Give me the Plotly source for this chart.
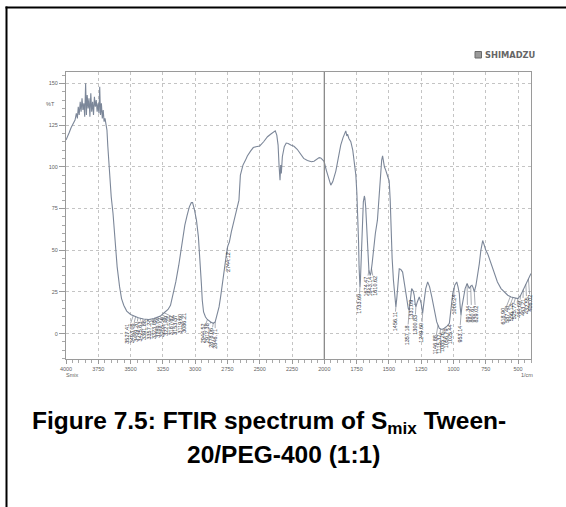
import numpy as np
import plotly.graph_objects as go

# ---------------- data ----------------
wavenumber = [4000, 3990, 3975, 3960, 3945, 3930, 3920, 3912, 3905, 3898, 3890, 3883, 3876, 3869,
              3862, 3855, 3848, 3842, 3836, 3829, 3822, 3815, 3808, 3801, 3794, 3787, 3780, 3773,
              3766, 3759, 3752, 3745, 3739, 3733, 3726, 3719, 3712, 3705, 3698, 3690, 3683, 3676,
              3668, 3660, 3650, 3636, 3620, 3604, 3585, 3570, 3553, 3530, 3500, 3476, 3440, 3400,
              3359, 3320, 3290, 3269, 3240, 3210, 3191, 3170, 3150, 3127, 3100, 3080, 3062, 3045,
              3030, 3020, 3005, 2990, 2975, 2965, 2958, 2952, 2945, 2935, 2920, 2906, 2880, 2860,
              2845, 2830, 2815, 2803, 2790, 2775, 2760, 2752, 2745, 2735, 2720, 2700, 2680, 2661,
              2650, 2630, 2610, 2596, 2570, 2550, 2530, 2500, 2470, 2440, 2416, 2395, 2380, 2368,
              2358, 2350, 2348, 2343, 2338, 2333, 2325, 2310, 2295, 2280, 2260, 2235, 2210, 2183,
              2160, 2131, 2100, 2080, 2060, 2040, 2028, 2015, 2002, 1985, 1965, 1950, 1935, 1920,
              1911, 1895, 1880, 1873, 1855, 1840, 1834, 1826, 1820, 1810, 1795, 1780, 1765, 1756,
              1748, 1740, 1735, 1731, 1727, 1724, 1720, 1712, 1705, 1698, 1690, 1686, 1680, 1672,
              1665, 1655, 1645, 1640, 1630, 1620, 1605, 1589, 1575, 1565, 1556, 1549, 1543, 1535,
              1525, 1510, 1498, 1490, 1485, 1475, 1465, 1455, 1446, 1438, 1430, 1420, 1408, 1394,
              1380, 1365, 1350, 1343, 1335, 1324, 1312, 1304, 1297, 1291, 1280, 1265, 1250, 1239,
              1230, 1215, 1200, 1185, 1168, 1148, 1130, 1110, 1090, 1071, 1050, 1032, 1020, 1006,
              990, 975, 965, 955, 948, 942, 935, 921, 910, 895, 885, 878, 867, 857, 848, 839, 826,
              813, 800, 788, 774, 762, 750, 735, 715, 700, 684, 660, 632, 600, 580, 554, 530, 502,
              480, 465, 451, 430, 410, 400]
transmittance = [116, 117.5, 120.5, 123.5, 126, 128, 132, 129, 136, 131, 139, 133, 141, 134,
                 138, 130, 150, 131, 143, 135, 141, 130, 144, 133, 139, 131, 142, 136,
                 140, 133, 138, 132, 148, 131, 138, 129, 134, 127, 129, 124, 122, 112,
                 102, 92, 82, 72, 55, 40, 28, 21, 17, 13.5, 11.5, 10.5, 9.5, 8.8,
                 8.5, 9, 9.8, 10.5, 12.5, 14.5, 17, 24, 31, 41, 55, 65, 71, 76,
                 78.5, 78.5, 74, 68, 58, 48, 40, 30, 20, 13, 10, 8.5, 7, 6.2,
                 7, 11, 16, 22, 30, 40, 47, 51, 53, 55, 61, 68, 74, 80,
                 95, 101, 104, 106.5, 109.5, 111.5, 112, 112.5, 115, 118, 119.5, 120.8, 121.5, 119,
                 113, 100, 98, 92, 101, 96, 106, 112, 114.2, 114, 113, 112.3, 110.5, 107.3,
                 105, 103.8, 103, 103.3, 104.5, 105.5, 105.3, 104.5, 103.3, 98, 92, 89, 91, 95,
                 97.4, 104, 110, 113, 117.5, 120, 121.5, 118.5, 119.5, 117, 115, 110, 101, 95,
                 84, 70, 55, 40, 30, 28, 33, 55, 70, 79, 82.5, 81, 76, 62,
                 48, 38, 35, 36, 42, 50, 60, 68, 85, 97, 104, 106.5, 103, 100,
                 98, 95, 91.5, 80, 67, 45, 32, 22, 16, 22, 32, 38.9, 38.5, 36.9,
                 30, 22, 15, 14.1, 21, 27, 25.5, 23, 18, 16, 19, 22, 18, 12.1,
                 18, 27, 31, 28, 22, 14.1, 7, 3.2, 2.5, 3.2, 4.5, 6.2, 14, 24,
                 29, 31, 28, 24, 16, 11.1, 16, 22, 27, 30, 28.5, 27, 28.5, 29, 27.5, 25, 29,
                 34.9, 42, 50, 55.8, 53, 50, 47.8, 43, 40, 35.9, 31, 27, 24.5, 23, 22, 21.5, 21,
                 23, 25.5, 28, 31, 34.5, 36]

x_ticks = [4000, 3750, 3500, 3250, 3000, 2750, 2500, 2250, 2000, 1750, 1500, 1250, 1000, 750, 500]
y_ticks = [0, 25, 50, 75, 100, 125, 150]

# peak labels: printed value, label x (1/cm), label centre (%T), point on the curve (1/cm)
peak_text = ["3527.41", "3493.06", "3459.20", "3425.63", "3391.88", "3357.27", "3323.05",
             "3289.74", "3255.16", "3221.49", "3187.82", "3153.37", "3119.60", "3086.21",
             "2944.52", "2912.38", "2878.06", "2846.71", "2744.12",
             "1733.69", "1674.47", "1643.14", "1610.62",
             "1456.11", "1357.18", "1331.09", "1300.83", "1249.60",
             "1146.88", "1115.37", "1085.26", "1056.79", "1025.44",
             "1000.24", "953.14", "891.34", "860.61", "829.02",
             "618.90", "587.48", "556.13", "525.77", "494.69", "463.21", "432.55", "406.02"]
peak_label_x = [3527, 3493, 3459, 3425, 3391, 3357, 3323, 3289, 3255, 3221, 3187, 3153, 3119, 3086,
                2944, 2912, 2878, 2846, 2744,
                1733, 1674, 1643, 1610,
                1456, 1357, 1331, 1300, 1249,
                1146, 1115, 1085, 1056, 1025,
                1000, 953, 891, 860, 829,
                618, 587, 556, 525, 494, 463, 432, 406]
peak_label_y = [0.0, 0.5, 1.0, 1.5, 2.0, 2.5, 3.0, 3.5, 4.0, 4.5, 5.0, 5.5, 6.0, 6.5,
                0.5, 0.0, -2.5, -3.0, 43,
                17.8, 28.5, 28.5, 28.5,
                7.2, -0.8, 14.2, 5.2, 0.7,
                -6.8, -6.2, -5.3, -2.6, -0.2,
                17.2, -0.2, 11.8, 11.8, 11.8,
                10.7, 11.8, 12.8, 13.9, 14.9, 16.0, 17.1, 18.2]
peak_point_x = [3480, 3461, 3443, 3424, 3406, 3387, 3369, 3350, 3332, 3313, 3295, 3276, 3258, 3240,
                2905, 2880, 2860, 2845, 2750,
                1724, 1655, 1645, 1635,
                1446, 1343, 1297, 1291, 1239,
                1120, 1100, 1080, 1060, 1040,
                995, 942, 895, 867, 839,
                560, 540, 520, 500, 480, 460, 440, 420]

# ---------------- figure ----------------
W, H = 566, 507
ML, MR, MT, MB = 66, 35, 72, 148
PW, PH = W - ML - MR, H - MT - MB


def px2paper_x(px):
    """page pixel x -> paper x"""
    return (px - ML) / PW


def py2paper_y(py):
    """page pixel y -> paper y"""
    return (H - MB - py) / PH


wn_arr = np.array(wavenumber, dtype=float)
t_arr = np.array(transmittance, dtype=float)

fig = go.Figure()
fig.add_trace(go.Scatter(x=wn_arr, y=t_arr, mode="lines",
                         line=dict(color="#7c8799", width=1.1),
                         hoverinfo="skip", showlegend=False))

grey_txt = "#5f5f5f"
tick_font = dict(family="Liberation Sans, Arial", size=5.5, color=grey_txt)

fig.update_layout(
    width=W, height=H,
    margin=dict(l=ML, r=MR, t=MT, b=MB),
    paper_bgcolor="white", plot_bgcolor="white",
    showlegend=False,
    xaxis=dict(range=[4000, 400], tickmode="array", tickvals=x_ticks,
               ticktext=[str(v) for v in x_ticks],
               showgrid=True, gridcolor="#c4c4c4", griddash="dot", gridwidth=1,
               showline=True, linecolor="#9a9a9a", linewidth=1, mirror=True,
               ticks="outside", ticklen=4, tickcolor="#9a9a9a", tickfont=tick_font,
               minor=dict(dtick=50, tick0=0, ticks="outside", ticklen=2.5, tickcolor="#a8a8a8",
                          showgrid=False),
               zeroline=False),
    yaxis=dict(range=[-15.2, 156.8], tickmode="array", tickvals=y_ticks,
               ticktext=[str(v) for v in y_ticks],
               showgrid=True, gridcolor="#c4c4c4", griddash="dot", gridwidth=1,
               showline=True, linecolor="#9a9a9a", linewidth=1, mirror=True,
               ticks="outside", ticklen=6, tickcolor="#9a9a9a", tickfont=tick_font,
               minor=dict(dtick=5, tick0=0, ticks="outside", ticklen=3, tickcolor="#a8a8a8",
                          showgrid=False),
               zeroline=False),
)

# solid line at 2000 1/cm (scale change)
fig.add_shape(type="line", xref="x", yref="y domain", x0=2000, x1=2000, y0=0, y1=1,
              line=dict(color="#8a8a8a", width=1.3))

# frame of the page: top and left black rules
fig.add_shape(type="line", xref="paper", yref="paper",
              x0=px2paper_x(5.5), x1=px2paper_x(570), y0=py2paper_y(7.5), y1=py2paper_y(7.5),
              line=dict(color="black", width=2))
fig.add_shape(type="line", xref="paper", yref="paper",
              x0=px2paper_x(6.5), x1=px2paper_x(6.5), y0=py2paper_y(6.5), y1=py2paper_y(510),
              line=dict(color="black", width=2))

# SHIMADZU logo
fig.add_shape(type="rect", xref="paper", yref="paper",
              x0=px2paper_x(475), x1=px2paper_x(481.5), y0=py2paper_y(58), y1=py2paper_y(51.5),
              line=dict(color="#6a6a6a", width=1), fillcolor="#9a9a9a")
fig.add_annotation(xref="paper", yref="paper", x=px2paper_x(482.5), y=py2paper_y(55),
                   xanchor="left", yanchor="middle", showarrow=False,
                   text="<b>SHIMADZU</b>",
                   font=dict(family="DejaVu Sans", size=8.3, color="#666666"))

# axis captions
fig.add_annotation(xref="paper", yref="y", x=px2paper_x(57), y=137.5, xanchor="right",
                   yanchor="middle", showarrow=False, text="%T", font=tick_font)
fig.add_annotation(xref="x", yref="paper", x=3955, y=py2paper_y(374.5), xanchor="center",
                   yanchor="middle", showarrow=False, text="Smix", font=tick_font)
fig.add_annotation(xref="x", yref="paper", x=430, y=py2paper_y(375), xanchor="center",
                   yanchor="middle", showarrow=False, text="1/cm", font=tick_font)

# peak labels with leader lines
interp_x = wn_arr[::-1]
interp_y = t_arr[::-1]
for txt, lx, ly, px in zip(peak_text, peak_label_x, peak_label_y, peak_point_x):
    py = float(np.interp(px, interp_x, interp_y))
    fig.add_annotation(x=px, y=py, xref="x", yref="y",
                       ax=lx, ay=ly, axref="x", ayref="y",
                       text=txt, textangle=-90, showarrow=True,
                       arrowhead=0, arrowwidth=0.6, arrowcolor="#6b7280",
                       standoff=0, startstandoff=0,
                       font=dict(family="Liberation Sans, Arial", size=5.5, color="#2f3540"),
                       borderpad=0)

# figure caption
cap_font = dict(family="Liberation Sans, Arial", size=24.5, color="black")
fig.add_annotation(xref="paper", yref="paper", x=px2paper_x(269), y=py2paper_y(422),
                   xanchor="center", yanchor="middle", showarrow=False,
                   text="<b>Figure 7.5: FTIR spectrum of S<sub>mix</sub> Tween-</b>", font=cap_font)
fig.add_annotation(xref="paper", yref="paper", x=px2paper_x(283), y=py2paper_y(454),
                   xanchor="center", yanchor="middle", showarrow=False,
                   text="<b>20/PEG-400 (1:1)</b>", font=cap_font)

# the page itself: no body margin, no scrollbars, so the figure fills the window
page_js = ("document.documentElement.style.overflow='hidden';"
           "document.body.style.margin='0';"
           "document.body.style.overflow='hidden';")

fig.write_html("out.html", post_script=page_js,
               config={"displayModeBar": False, "staticPlot": True})
